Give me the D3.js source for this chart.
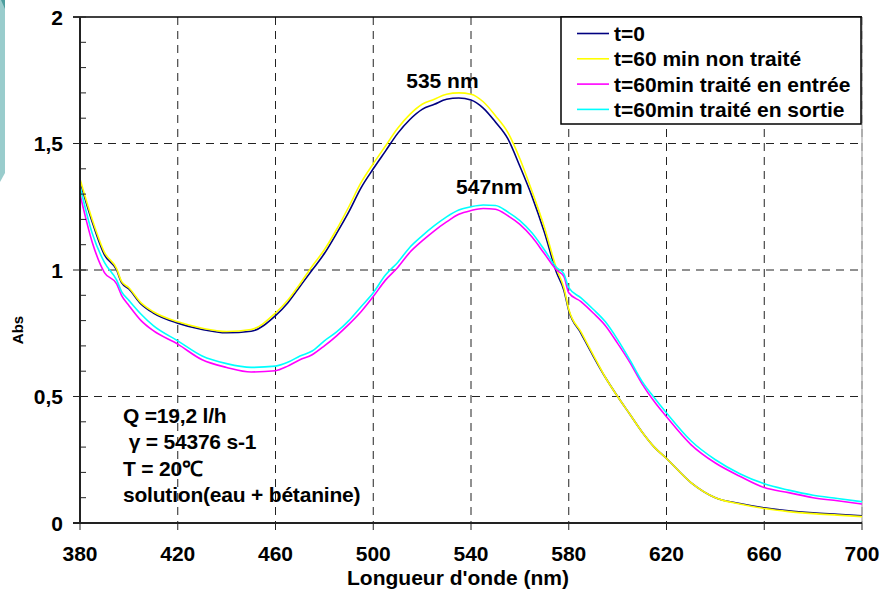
<!DOCTYPE html>
<html>
<head>
<meta charset="utf-8">
<script src="https://cdn.jsdelivr.net/npm/d3@7"></script>
<style>
  body { margin: 0; background: #fff; }
  svg text { font-family: Arial, "Liberation Sans", sans-serif; font-weight: bold; fill: #000; }
</style>
</head>
<body>
<div class="visHolder"></div>
<script>
// wavelengths (nm), shared by the four spectra
var wavelengths = [380, 385, 390, 395, 397, 400, 405, 410, 420, 430, 440, 450, 460, 465, 470, 475, 480, 485, 490, 495,
    500, 505, 510, 515, 520, 525, 530, 535, 540, 545, 550, 555, 560, 565, 570, 575, 578, 580, 585, 590,
    595, 600, 605, 610, 615, 620, 630, 640, 650, 660, 670, 680, 690, 700];

var absT0 = [1.35, 1.19, 1.06, 1.00, 0.95, 0.925, 0.865, 0.83, 0.79, 0.765, 0.752, 0.758, 0.82, 0.87, 0.935, 1.00, 1.065, 1.145, 1.23, 1.325,
    1.40, 1.47, 1.54, 1.595, 1.635, 1.655, 1.675, 1.68, 1.672, 1.64, 1.585, 1.52, 1.41, 1.29, 1.15, 0.99, 0.92, 0.84, 0.75, 0.66,
    0.575, 0.50, 0.43, 0.36, 0.30, 0.255, 0.16, 0.10, 0.077, 0.06, 0.048, 0.04, 0.034, 0.028];

var absNonTraite = [1.36, 1.20, 1.07, 1.005, 0.955, 0.93, 0.87, 0.835, 0.795, 0.77, 0.757, 0.765, 0.83, 0.88, 0.945, 1.015, 1.08, 1.16, 1.25, 1.345,
    1.42, 1.49, 1.56, 1.615, 1.655, 1.675, 1.695, 1.70, 1.695, 1.665, 1.61, 1.545, 1.44, 1.31, 1.17, 1.005, 0.93, 0.845, 0.755, 0.665,
    0.575, 0.50, 0.43, 0.36, 0.30, 0.255, 0.16, 0.10, 0.075, 0.057, 0.045, 0.037, 0.031, 0.025];

var absEntree = [1.30, 1.11, 0.99, 0.945, 0.90, 0.86, 0.80, 0.76, 0.707, 0.645, 0.615, 0.597, 0.602, 0.62, 0.645, 0.665, 0.70, 0.74, 0.785, 0.835,
    0.895, 0.96, 1.01, 1.07, 1.115, 1.155, 1.19, 1.22, 1.235, 1.243, 1.24, 1.215, 1.18, 1.13, 1.065, 1.00, 0.975, 0.91, 0.875, 0.83,
    0.78, 0.71, 0.635, 0.55, 0.48, 0.42, 0.31, 0.237, 0.185, 0.14, 0.12, 0.10, 0.088, 0.075];

var absSortie = [1.33, 1.145, 1.03, 0.96, 0.915, 0.88, 0.825, 0.78, 0.72, 0.66, 0.63, 0.615, 0.62, 0.635, 0.66, 0.68, 0.72, 0.755, 0.80, 0.855,
    0.91, 0.98, 1.03, 1.09, 1.135, 1.175, 1.21, 1.237, 1.25, 1.257, 1.255, 1.23, 1.195, 1.146, 1.08, 1.01, 0.985, 0.93, 0.89, 0.845,
    0.795, 0.725, 0.645, 0.56, 0.495, 0.435, 0.325, 0.25, 0.195, 0.155, 0.13, 0.11, 0.097, 0.084];

var seriesNames = ["t=0", "t=60 min non traité", "t=60min traité en entrée", "t=60min traité en sortie"];
var seriesColors = ["#000080", "#FFFF00", "#FF00FF", "#00FFFF"];

var xTicks = [380, 420, 460, 500, 540, 580, 620, 660, 700];
var yTicks = [0, 0.5, 1, 1.5, 2];
var yTickLabels = ["0", "0,5", "1", "1,5", "2"];
var yMinorTicks = d3.range(0, 2.001, 0.1);

var peakLabels = ["535 nm", "547nm"];
var infoLines = ["Q =19,2 l/h", " γ = 54376 s-1", "T = 20℃", "solution(eau + bétanine)"];

// plot box
var margin = { top: 17, right: 22, bottom: 68, left: 80 },
    fullW = 884, fullH = 591,
    width = fullW - margin.left - margin.right,
    height = fullH - margin.top - margin.bottom;

var svg = d3.select(".visHolder")
    .append("svg")
    .attr("width", fullW)
    .attr("height", fullH);

// teal strip on the left edge
svg.append("polygon")
    .attr("points", "0,0 5,0 5,173 0,182")
    .style("fill", "#99CCCC");
svg.append("polygon")
    .attr("points", "1,0 5,0 5,9")
    .style("fill", "#4E9E9E");

var g = svg.append("g")
    .attr("transform", "translate(" + margin.left + "," + margin.top + ")");

var x = d3.scaleLinear().domain([380, 700]).range([0, width]);
var y = d3.scaleLinear().domain([0, 2]).range([height, 0]);

// dashed grid
g.selectAll(".vgrid")
    .data(xTicks.slice(1))
    .enter()
    .append("line")
    .attr("x1", (d) => x(d)).attr("x2", (d) => x(d))
    .attr("y1", 0).attr("y2", height)
    .style("stroke", (d) => d === 700 ? "#888" : "#222")
    .style("stroke-width", 1)
    .style("stroke-dasharray", "8,6");

g.selectAll(".hgrid")
    .data([0.5, 1, 1.5])
    .enter()
    .append("line")
    .attr("x1", 0).attr("x2", width)
    .attr("y1", (d) => y(d)).attr("y2", (d) => y(d))
    .style("stroke", "#222")
    .style("stroke-width", 1)
    .style("stroke-dasharray", "8,6");

// top border
g.append("line")
    .attr("x1", -7).attr("x2", width)
    .attr("y1", 0).attr("y2", 0)
    .style("stroke", "#000").style("stroke-width", 1.5);
// right border
g.append("line")
    .attr("x1", width).attr("x2", width)
    .attr("y1", 0).attr("y2", height)
    .style("stroke", "#999").style("stroke-width", 1);

// curves
var line = d3.line()
    .x((d) => x(d[0]))
    .y((d) => y(d[1]))
    .curve(d3.curveMonotoneX);

var allSeries = [absT0, absNonTraite, absEntree, absSortie];
allSeries.forEach(function(vals, i) {
    g.append("path")
        .datum(wavelengths.map((w, k) => [w, vals[k]]))
        .attr("d", line)
        .style("fill", "none")
        .style("stroke", seriesColors[i])
        .style("stroke-width", 1.6);
});

// y axis: outward major ticks, inward minor ticks
var yAxis = g.append("g").attr("id", "y-axis");
yAxis.append("line")
    .attr("x1", 0).attr("x2", 0).attr("y1", 0).attr("y2", height)
    .style("stroke", "#222").style("stroke-width", 2);
yAxis.selectAll(".minor")
    .data(yMinorTicks)
    .enter()
    .append("line")
    .attr("x1", 0).attr("x2", 6)
    .attr("y1", (d) => y(d)).attr("y2", (d) => y(d))
    .style("stroke", "#222").style("stroke-width", 1);
yAxis.selectAll(".major")
    .data(yTicks)
    .enter()
    .append("line")
    .attr("x1", -7).attr("x2", 0)
    .attr("y1", (d) => y(d)).attr("y2", (d) => y(d))
    .style("stroke", "#222").style("stroke-width", 1);
yAxis.selectAll(".lbl")
    .data(yTicks)
    .enter()
    .append("text")
    .attr("x", -17)
    .attr("y", (d) => y(d) + 7.5)
    .attr("text-anchor", "end")
    .style("font-size", "21px")
    .text((d, i) => yTickLabels[i]);

// x axis
var xAxis = g.append("g").attr("id", "x-axis").attr("transform", "translate(0," + height + ")");
xAxis.append("line")
    .attr("x1", -7).attr("x2", width).attr("y1", 0).attr("y2", 0)
    .style("stroke", "#222").style("stroke-width", 2);
xAxis.selectAll(".tick")
    .data(xTicks)
    .enter()
    .append("line")
    .attr("x1", (d) => x(d)).attr("x2", (d) => x(d))
    .attr("y1", 0).attr("y2", 7)
    .style("stroke", "#222").style("stroke-width", 1);
xAxis.selectAll(".lbl")
    .data(xTicks)
    .enter()
    .append("text")
    .attr("x", (d) => x(d))
    .attr("y", 38)
    .attr("text-anchor", "middle")
    .style("font-size", "21px")
    .text((d) => d);

// axis titles
svg.append("text")
    .attr("x", 458)
    .attr("y", 585)
    .attr("text-anchor", "middle")
    .style("font-size", "21px")
    .text("Longueur d'onde (nm)");

svg.append("text")
    .attr("transform", "translate(23,330) rotate(-90)")
    .attr("text-anchor", "middle")
    .style("font-size", "15px")
    .text("Abs");

// peak labels
g.append("text")
    .attr("x", x(528.3)).attr("y", y(1.72))
    .attr("text-anchor", "middle")
    .style("font-size", "21px")
    .text(peakLabels[0]);
g.append("text")
    .attr("x", x(547.5)).attr("y", y(1.30))
    .attr("text-anchor", "middle")
    .style("font-size", "21px")
    .text(peakLabels[1]);

// experiment conditions
g.selectAll(".info")
    .data(infoLines)
    .enter()
    .append("text")
    .attr("x", 43)
    .attr("y", (d, i) => 406 + i * 26.3)
    .attr("xml:space", "preserve")
    .style("white-space", "pre")
    .style("font-size", "21px")
    .style("letter-spacing", "-0.2px")
    .text((d) => d);

// legend
var legendContainer = svg.append("g").attr("id", "legend");
legendContainer.append("rect")
    .attr("x", 561).attr("y", 17)
    .attr("width", 300).attr("height", 107)
    .style("fill", "#fff")
    .style("stroke", "#000")
    .style("stroke-width", 1.5);

seriesNames.forEach(function(name, i) {
    var ly = 33.5 + i * 25.3;
    legendContainer.append("line")
        .attr("x1", 577).attr("x2", 609)
        .attr("y1", ly).attr("y2", ly)
        .style("stroke", seriesColors[i])
        .style("stroke-width", 1.6);
    legendContainer.append("text")
        .attr("x", 614).attr("y", ly + 7.5)
        .style("font-size", "21px")
        .text(name);
});
</script>
</body>
</html>
